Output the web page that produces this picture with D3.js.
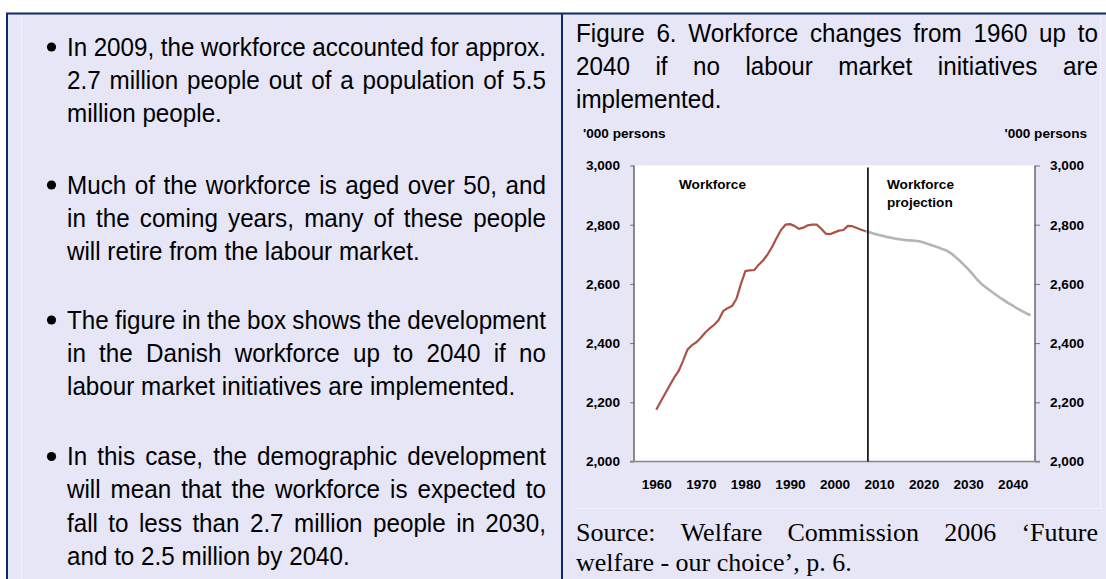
<!DOCTYPE html>
<html><head><meta charset="utf-8">
<script src="https://cdn.jsdelivr.net/npm/d3@7"></script>
<style>html,body{margin:0;padding:0;background:#fff;overflow:hidden}</style>
</head><body>
<svg id="c" width="1106" height="579"></svg>
<script>
// ---------- DATA ----------
const histYears = [1960,1961,1962,1963,1964,1965,1966,1967,1968,1969,1970,1971,1972,1973,1974,1975,1976,1977,1978,1979,1980,1981,1982,1983,1984,1985,1986,1987,1988,1989,1990,1991,1992,1993,1994,1995,1996,1997,1998,1999,2000,2001,2002,2003,2004,2005,2006,2007];
const histValues = [2175,2203,2230,2257,2283,2305,2340,2378,2393,2403,2418,2436,2450,2462,2478,2508,2518,2525,2550,2600,2643,2646,2647,2665,2680,2700,2725,2755,2782,2800,2802,2796,2786,2790,2798,2800,2800,2787,2770,2768,2774,2780,2782,2796,2795,2789,2783,2778];
const projYears = [2007,2008,2009,2010,2011,2012,2013,2014,2015,2016,2017,2018,2019,2020,2021,2022,2023,2024,2025,2026,2027,2028,2029,2030,2031,2032,2033,2034,2035,2036,2037,2038,2039,2040,2041,2042,2043,2044];
const projValues = [2778,2774,2769,2765,2762,2758,2755,2752,2750,2748,2747,2746,2744,2740,2735,2730,2725,2719,2714,2705,2693,2680,2665,2650,2633,2615,2600,2588,2577,2566,2555,2545,2535,2527,2517,2509,2501,2494];
const projectionStart = 2007.5;
const xDomain = [1955, 2045];
const yDomain = [2000, 3000];
const xTicks = [1960,1970,1980,1990,2000,2010,2020,2030,2040];
const yTicks = [2000,2200,2400,2600,2800,3000];
const unitLabel = "'000 persons";
const histLabel = ["Workforce"];
const projLabel = ["Workforce","projection"];
const titleLines = ["Figure 6. Workforce changes from 1960 up to","2040 if no labour market initiatives are","implemented."];
const sourceLines = ["Source: Welfare Commission 2006 \u2018Future","welfare - our choice\u2019, p. 6."];
const bulletParas = [
  ["In 2009, the workforce accounted for approx.","2.7 million people out of a population of 5.5","million people."],
  ["Much of the workforce is aged over 50, and","in the coming years, many of these people","will retire from the labour market."],
  ["The figure in the box shows the development","in the Danish workforce up to 2040 if no","labour market initiatives are implemented."],
  ["In this case, the demographic development","will mean that the workforce is expected to","fall to less than 2.7 million people in 2030,","and to 2.5 million by 2040."]
];

// ---------- LAYOUT ----------
const svg = d3.select('#c');
const LAV = '#e6e6f7', NAVY = '#0f2a68';
svg.append('rect').attr('width',1106).attr('height',579).attr('fill','#fff');
svg.append('rect').attr('x',6).attr('y',13).attr('width',1100).attr('height',566).attr('fill',LAV);
svg.append('line').attr('x1',6).attr('x2',1106).attr('y1',13.5).attr('y2',13.5).attr('stroke',NAVY).attr('stroke-width',2);
svg.append('line').attr('x1',7).attr('x2',7).attr('y1',13).attr('y2',579).attr('stroke',NAVY).attr('stroke-width',2);
svg.append('line').attr('x1',562).attr('x2',562).attr('y1',13).attr('y2',579).attr('stroke',NAVY).attr('stroke-width',2);
svg.append('line').attr('x1',21.5).attr('x2',21.5).attr('y1',15).attr('y2',579).attr('stroke','#f2f2fb').attr('stroke-width',1);
svg.append('line').attr('x1',1100.5).attr('x2',1100.5).attr('y1',15).attr('y2',508).attr('stroke','#f2f2fb').attr('stroke-width',1);
svg.append('line').attr('x1',575).attr('x2',1102).attr('y1',508.5).attr('y2',508.5).attr('stroke','#f2f2fb').attr('stroke-width',1);

const cvs = document.createElement('canvas').getContext('2d');
function measure(str, font){ cvs.font = font; return cvs.measureText(str).width; }

function textLine(parent, str, x0, x1, y, o){
  const font = `${o.weight||'normal'} ${o.size}px ${o.family}`;
  const words = str.split(' ');
  const sx = o.sx||1;
  const widths = words.map(w=>measure(w,font));
  const sum = d3.sum(widths);
  const avail = (x1-x0)/sx;
  const gap = (o.justify && words.length>1) ? (avail-sum)/(words.length-1) : measure(' ',font);
  const t = parent.append('text')
    .attr('transform',`translate(${x0},${y}) scale(${sx},1)`)
    .attr('font-family',o.family).attr('font-size',o.size).attr('font-weight',o.weight||'normal')
    .attr('fill',o.fill||'#000');
  let x = 0;
  words.forEach((w,i)=>{ t.append('tspan').attr('x',x).attr('y',0).text(w); x += widths[i]+gap; });
}

const SANS = "'Liberation Sans', Arial, sans-serif";
const SERIF = "'Liberation Serif', 'Times New Roman', serif";
const body = {family:SANS, size:25.5, sx:0.95};

// Left column bullets
const paraStart = [55.5, 193.5, 328.5, 465];
const LS = 33.3;
bulletParas.forEach((p,pi)=>{
  const y0 = paraStart[pi];
  svg.append('circle').attr('cx',51.5).attr('cy',y0-8.5).attr('r',4.6).attr('fill','#000');
  p.forEach((line,li)=>{
    textLine(svg, line, 67, 546, y0+li*LS, Object.assign({justify: li < p.length-1}, body));
  });
});

// Right column title
titleLines.forEach((line,i)=>{
  textLine(svg, line, 576, 1098, 41.7+i*33.2, Object.assign({justify: i < titleLines.length-1}, body));
});
// Source
sourceLines.forEach((line,i)=>{
  textLine(svg, line, 576, 1098, 541+i*30, {family:SERIF, size:26, justify: i < sourceLines.length-1});
});

// ---------- CHART ----------
const x = d3.scaleLinear().domain(xDomain).range([634, 1035]);
const y = d3.scaleLinear().domain(yDomain).range([461.5, 165.5]);
const g = svg.append('g');
g.append('rect').attr('x',x(xDomain[0])).attr('y',y(yDomain[1])).attr('width',x(xDomain[1])-x(xDomain[0])).attr('height',y(yDomain[0])-y(yDomain[1])).attr('fill','#fff');

const lab = (sel)=>sel.attr('font-family',SANS).attr('font-size',13.6).attr('font-weight','bold').attr('fill','#000');

// axes
const leftAxis = d3.axisLeft(y).tickValues(yTicks).tickFormat(d3.format(',')).tickSize(4).tickPadding(10);
const rightAxis = d3.axisRight(y).tickValues(yTicks).tickFormat(d3.format(',')).tickSize(5).tickPadding(10);
const bottomAxis = d3.axisBottom(x).tickValues(xTicks).tickFormat(d3.format('d')).tickSize(0).tickPadding(18);
function styleAxis(a){
  a.select('.domain').remove();
  a.selectAll('.tick line').attr('stroke','#777');
  a.selectAll('.tick text').call(lab);
}
g.append('g').attr('transform',`translate(${x(xDomain[0])},0)`).call(leftAxis).call(styleAxis);
g.append('g').attr('transform',`translate(${x(xDomain[1])},0)`).call(rightAxis).call(styleAxis);
g.append('g').attr('transform',`translate(0,${y(yDomain[0])})`).call(bottomAxis).call(styleAxis);

g.append('line').attr('x1',x(xDomain[0])).attr('x2',x(xDomain[0])).attr('y1',y(yDomain[1])).attr('y2',y(yDomain[0])).attr('stroke','#444').attr('stroke-width',1.2);
g.append('line').attr('x1',x(xDomain[1])).attr('x2',x(xDomain[1])).attr('y1',y(yDomain[1])).attr('y2',y(yDomain[0])).attr('stroke','#444').attr('stroke-width',1.2);
g.append('line').attr('x1',x(xDomain[0])-4).attr('x2',x(xDomain[1])+5).attr('y1',y(yDomain[0])).attr('y2',y(yDomain[0])).attr('stroke','#888').attr('stroke-width',1.5);

// lines
const line = d3.line().x(d=>x(d[0])).y(d=>y(d[1])).curve(d3.curveLinear);
g.append('path').datum(projYears.map((yr,i)=>[yr,projValues[i]])).attr('d',line)
  .attr('fill','none').attr('stroke','#b5b5b5').attr('stroke-width',2.6).attr('stroke-linejoin','round');
g.append('path').datum(histYears.map((yr,i)=>[yr,histValues[i]])).attr('d',line)
  .attr('fill','none').attr('stroke','#ab5243').attr('stroke-width',2.2).attr('stroke-linejoin','round');

// divider
g.append('line').attr('x1',x(projectionStart)).attr('x2',x(projectionStart)).attr('y1',y(yDomain[1])+2).attr('y2',y(yDomain[0])).attr('stroke','#000').attr('stroke-width',1.6);

// labels
g.append('text').attr('x',583).attr('y',138).text(unitLabel).call(lab);
g.append('text').attr('x',1087).attr('y',138).attr('text-anchor','end').text(unitLabel).call(lab);
histLabel.forEach((t,i)=>g.append('text').attr('x',679).attr('y',189+i*18).text(t).call(lab));
projLabel.forEach((t,i)=>g.append('text').attr('x',887).attr('y',189+i*18).text(t).call(lab));
</script>
</body></html>
